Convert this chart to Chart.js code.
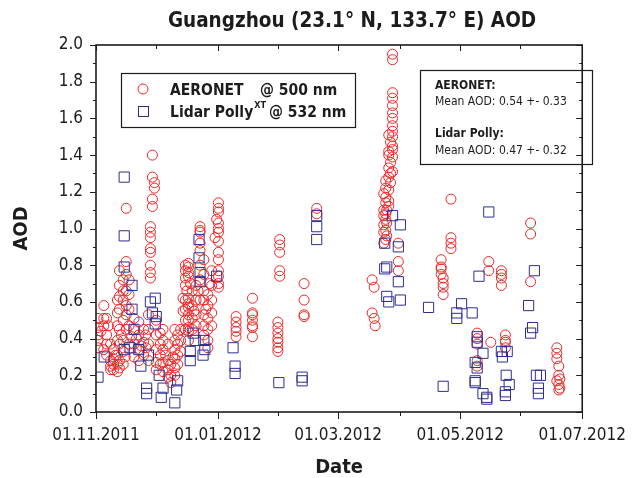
<!DOCTYPE html>
<html lang="en">
<head>
  <meta charset="UTF-8" />
  <title>Guangzhou AOD</title>
  <style>
    html, body { margin: 0; padding: 0; background: #fff; }
    #wrap { width: 639px; height: 478px; }
  </style>
</head>
<body>
  <div id="wrap"><canvas id="aodChart" width="639" height="478"></canvas></div>
  <script src="https://cdn.jsdelivr.net/npm/chart.js"></script>
  <script>
    // x = days since 01.11.2011
    const tickDays = [0, 61, 121, 182, 243];
    const tickLabels = ['01.11.2011', '01.01.2012', '01.03.2012', '01.05.2012', '01.07.2012'];
    const minorDays = [30, 91, 152, 212];

    // AERONET @ 500 nm : [day, AOD]
    const aeronetNov = [
      [1.0, 0.51], [1.0, 0.46], [1.0, 0.42], [1.0, 0.39], [1.0, 0.35], [2.5, 0.44],
      [3.9, 0.58], [3.9, 0.51], [3.9, 0.47], [3.9, 0.34],
      [5.3, 0.51], [5.3, 0.42], [5.3, 0.37], [5.3, 0.31], [6.2, 0.47],
      [7.3, 0.37], [7.3, 0.28], [7.3, 0.25], [7.3, 0.23],
      [8.7, 0.34], [8.7, 0.29], [8.7, 0.26], [8.7, 0.23], [9.7, 0.31],
      [10.7, 0.61], [10.7, 0.54], [10.7, 0.47], [10.7, 0.39], [10.7, 0.31], [10.7, 0.26], [10.7, 0.22],
      [11.7, 0.77], [11.7, 0.69], [11.7, 0.63], [11.7, 0.56], [11.7, 0.45], [11.7, 0.37], [11.7, 0.28], [11.7, 0.24],
      [12.6, 0.42],
      [13.6, 0.72], [13.6, 0.66], [13.6, 0.61], [13.6, 0.50], [13.6, 0.39], [13.6, 0.33], [13.6, 0.26],
      [14.6, 0.30],
      [15.1, 1.11], [15.1, 0.82], [15.1, 0.75], [15.1, 0.66], [15.1, 0.58], [15.1, 0.53], [15.1, 0.45],
      [16.5, 0.72], [16.5, 0.64], [16.5, 0.56], [16.5, 0.47], [16.5, 0.37], [17.8, 0.41],
      [19.0, 0.51], [19.0, 0.45], [19.0, 0.37], [19.0, 0.30], [20.2, 0.40],
      [21.4, 0.49], [21.4, 0.42], [21.4, 0.34], [21.4, 0.28], [22.6, 0.36],
      [23.8, 0.45], [23.8, 0.38], [23.8, 0.31], [24.8, 0.42], [25.0, 0.35],
      [26.2, 0.53], [26.2, 0.45], [26.2, 0.37], [26.2, 0.28],
      [27.2, 1.01], [27.2, 0.98], [27.2, 0.95], [27.2, 0.89], [27.2, 0.87], [27.2, 0.80], [27.2, 0.76], [27.2, 0.73],
      [28.2, 1.40], [28.2, 1.28], [28.2, 1.16], [28.2, 1.12],
      [29.2, 1.25], [29.2, 1.22],
      [30.1, 0.50], [30.1, 0.42], [30.1, 0.34], [30.1, 0.27], [30.1, 0.23]
    ];
    const aeronetDec = [
      [32.1, 0.43], [32.1, 0.37], [32.1, 0.31], [32.1, 0.26],
      [33.5, 0.45], [33.5, 0.39], [33.5, 0.34], [33.5, 0.27], [33.5, 0.22], [34.8, 0.31],
      [36.0, 0.37], [36.0, 0.28], [36.0, 0.23], [36.0, 0.19],
      [37.4, 0.26], [37.4, 0.20], [37.4, 0.16], [38.4, 0.30],
      [39.4, 0.45], [39.4, 0.39], [39.4, 0.34], [39.4, 0.29], [39.4, 0.24], [39.4, 0.20],
      [40.8, 0.42], [40.8, 0.37], [40.8, 0.31], [40.8, 0.26],
      [42.3, 0.45], [42.3, 0.39], [42.3, 0.33], [43.5, 0.62], [43.5, 0.55],
      [44.7, 0.80], [44.7, 0.77], [44.7, 0.73], [44.7, 0.69], [44.7, 0.61], [44.7, 0.56], [44.7, 0.50], [44.7, 0.45],
      [45.4, 0.66],
      [46.2, 0.81], [46.2, 0.79], [46.2, 0.76], [46.2, 0.74], [46.2, 0.62], [46.2, 0.59], [46.2, 0.57], [46.2, 0.53],
      [46.2, 0.50], [46.2, 0.46], [46.2, 0.44], [46.2, 0.39], [47.2, 0.70],
      [48.1, 0.66], [48.1, 0.58], [48.1, 0.51], [48.1, 0.45], [49.0, 0.55],
      [50.0, 0.69], [50.0, 0.61], [50.0, 0.53], [50.0, 0.47], [51.0, 0.66],
      [52.0, 1.01], [52.0, 0.99], [52.0, 0.98], [52.0, 0.92], [52.0, 0.88], [52.0, 0.80], [52.0, 0.72], [52.0, 0.61],
      [53.9, 0.83], [53.9, 0.75], [53.9, 0.66], [53.9, 0.61], [53.9, 0.53], [53.9, 0.47], [53.9, 0.42], [54.9, 0.56],
      [55.9, 0.64], [55.9, 0.58], [55.9, 0.51], [55.9, 0.45], [55.9, 0.39], [55.9, 0.35], [56.8, 0.70],
      [57.8, 0.77], [57.8, 0.69], [57.8, 0.61], [57.8, 0.54], [57.8, 0.47], [59.5, 0.95], [60.3, 1.05],
      [61.2, 1.14], [61.2, 1.11], [61.2, 1.09], [61.2, 1.03], [61.2, 1.00], [61.2, 0.98], [61.2, 0.93],
      [61.2, 0.87], [61.2, 0.83], [61.2, 0.77], [61.2, 0.74], [61.2, 0.70], [61.2, 0.68]
    ];
    const aeronetJanFeb = [
      [70.0, 0.52], [70.0, 0.49], [70.0, 0.46], [70.0, 0.44], [70.0, 0.41],
      [78.2, 0.62], [78.2, 0.54], [78.2, 0.53], [78.2, 0.50], [78.2, 0.47], [78.2, 0.46], [78.2, 0.41],
      [90.9, 0.49], [90.9, 0.46], [90.9, 0.43], [90.9, 0.40], [90.9, 0.38], [90.9, 0.35], [90.9, 0.33],
      [91.8, 0.94], [91.8, 0.91], [91.8, 0.87], [91.8, 0.77], [91.8, 0.74],
      [104.0, 0.70], [104.0, 0.61], [104.0, 0.53], [104.0, 0.52],
      [110.3, 1.11], [110.3, 1.08]
    ];
    const aeronetMarApr = [
      [138.0, 0.72], [138.0, 0.54], [139.0, 0.68], [139.0, 0.51], [139.5, 0.47],
      [143.8, 1.19], [143.8, 1.10], [143.8, 1.07], [143.8, 1.02], [143.8, 0.98], [143.8, 0.92],
      [144.8, 1.26], [144.8, 1.22], [144.8, 1.17], [144.8, 1.14], [144.8, 1.08], [144.8, 1.05], [144.8, 0.99], [144.8, 0.94],
      [145.3, 1.10], [145.3, 1.03], [145.3, 0.96],
      [146.3, 1.51], [146.3, 1.42], [146.3, 1.40], [146.3, 1.33], [146.3, 1.28], [146.3, 1.21], [146.3, 1.15], [146.3, 1.12],
      [147.2, 1.47], [147.2, 1.36], [147.2, 1.30], [147.2, 1.25],
      [148.2, 1.95], [148.2, 1.92], [148.2, 1.74], [148.2, 1.71], [148.2, 1.67], [148.2, 1.63], [148.2, 1.60],
      [148.2, 1.56], [148.2, 1.53], [148.2, 1.50], [148.2, 1.45], [148.2, 1.43], [148.2, 1.39], [148.2, 1.31],
      [151.1, 0.92], [151.1, 0.82], [151.1, 0.77]
    ];
    const aeronetMayJun = [
      [172.5, 0.83], [172.5, 0.79], [172.5, 0.78], [172.5, 0.75],
      [173.5, 0.73], [173.5, 0.70], [173.5, 0.68], [173.5, 0.64],
      [177.4, 1.16], [177.4, 0.95], [177.4, 0.92], [177.4, 0.89],
      [190.5, 0.43], [190.5, 0.40], [190.5, 0.37], [190.5, 0.28], [190.5, 0.25],
      [196.3, 0.82], [196.3, 0.77], [197.3, 0.38],
      [202.6, 0.77], [202.6, 0.75], [202.6, 0.73], [202.6, 0.69],
      [204.6, 0.42], [204.6, 0.39], [204.6, 0.38], [204.6, 0.35],
      [217.2, 1.03], [217.2, 0.97], [217.2, 0.71],
      [230.3, 0.35], [230.3, 0.32], [230.3, 0.29], [230.3, 0.17],
      [231.3, 0.25], [231.3, 0.20], [231.3, 0.15], [231.3, 0.12],
      [231.8, 0.18], [231.8, 0.13]
    ];

    // Lidar PollyXT @ 532 nm : [day, AOD]
    const pollyNov = [
      [1.0, 0.19], [4.1, 0.30], [14.1, 1.28], [14.1, 0.96], [14.1, 0.79], [18.0, 0.69], [18.0, 0.56],
      [19.0, 0.45], [14.1, 0.34], [17.0, 0.35], [21.4, 0.34], [22.4, 0.25], [26.2, 0.31], [27.2, 0.60],
      [29.6, 0.62], [28.2, 0.54], [30.1, 0.52], [29.6, 0.48], [25.3, 0.13], [25.3, 0.10]
    ];
    const pollyDec = [
      [31.6, 0.20], [33.5, 0.13], [32.6, 0.08], [39.4, 0.05], [40.8, 0.17], [40.3, 0.12], [47.1, 0.33],
      [47.1, 0.28], [48.6, 0.43], [51.5, 0.94], [51.5, 0.84], [52.0, 0.76], [52.0, 0.71], [49.6, 0.39],
      [53.9, 0.39], [54.4, 0.34], [53.5, 0.31], [60.3, 0.74]
    ];
    const pollyJanFeb = [
      [68.5, 0.35], [69.5, 0.25], [69.5, 0.21], [91.4, 0.16], [103.0, 0.17], [103.0, 0.19],
      [110.3, 1.07], [110.3, 1.01], [110.3, 0.94]
    ];
    const pollyMarApr = [
      [148.2, 1.07], [152.1, 1.02], [144.3, 0.92], [151.1, 0.90], [145.3, 0.79], [144.3, 0.78],
      [151.1, 0.71], [145.3, 0.63], [146.3, 0.60], [152.1, 0.61], [166.2, 0.57], [173.5, 0.14]
    ];
    const pollyMayJun = [
      [180.3, 0.54], [180.3, 0.51], [182.7, 0.59], [188.0, 0.54], [190.5, 0.41], [190.5, 0.38],
      [191.4, 0.74], [193.4, 0.32], [189.5, 0.27], [190.5, 0.24], [189.5, 0.17], [189.5, 0.16],
      [193.4, 0.10], [195.3, 0.08], [195.3, 0.07], [196.3, 1.09], [202.6, 0.33], [205.5, 0.33],
      [203.1, 0.30], [205.0, 0.20], [206.5, 0.15], [204.6, 0.11], [204.6, 0.09], [219.1, 0.77],
      [216.2, 0.58], [218.2, 0.46], [217.2, 0.43], [220.1, 0.20], [222.1, 0.20], [221.1, 0.13], [221.1, 0.10]
    ];

    const statLines = [
      ['AERONET:', true], ['Mean AOD: 0.54 +- 0.33', false],
      ['Lidar Polly:', true], ['Mean AOD: 0.47 +- 0.32', false]
    ];

    const RED = '#ee2626';
    const BLUE = '#2e2e92';
    const INK = '#1c1c1c';
    const FONT = "'DejaVu Sans Condensed', 'Liberation Sans Narrow', 'DejaVu Sans', sans-serif";
    const toXY = ([x, y]) => ({ x, y });

    const aeronet = [...aeronetNov, ...aeronetDec, ...aeronetJanFeb, ...aeronetMarApr, ...aeronetMayJun].map(toXY);
    const polly = [...pollyNov, ...pollyDec, ...pollyJanFeb, ...pollyMarApr, ...pollyMayJun].map(toXY);

    // frame, minor/major ticks, legend box, stats box, title
    const decorations = {
      id: 'decorations',
      afterDraw(chart) {
        const { ctx, chartArea: a, scales: { x, y } } = chart;
        ctx.save();
        ctx.strokeStyle = INK;
        ctx.lineWidth = 1;
        const seg = (x1, y1, x2, y2) => { ctx.beginPath(); ctx.moveTo(x1, y1); ctx.lineTo(x2, y2); ctx.stroke(); };

        for (let i = 0; i <= 20; i++) {
          const py = Math.round(y.getPixelForValue(i / 10)) + 0.5;
          const len = i % 2 === 0 ? 6 : 3;
          seg(a.left - len, py, a.left, py);
          seg(a.right - len, py, a.right, py);
        }
        tickDays.forEach(d => {
          const px = Math.round(x.getPixelForValue(d)) + 0.5;
          seg(px, a.bottom, px, a.bottom + 7);
          seg(px, a.top, px, a.top + 6);
        });
        minorDays.forEach(d => {
          const px = Math.round(x.getPixelForValue(d)) + 0.5;
          seg(px, a.bottom, px, a.bottom + 4);
          seg(px, a.top, px, a.top + 4);
        });
        ctx.lineWidth = 1.6;
        ctx.strokeRect(a.left, a.top, a.right - a.left, a.bottom - a.top);

        // legend
        ctx.lineWidth = 1.2;
        ctx.strokeRect(121.5, 73.5, 234, 54);
        ctx.lineWidth = 1;
        ctx.strokeStyle = RED;
        ctx.beginPath(); ctx.arc(143, 89, 5, 0, Math.PI * 2); ctx.stroke();
        ctx.strokeStyle = BLUE;
        ctx.strokeRect(138.5, 106.5, 10, 10);
        ctx.fillStyle = INK;
        ctx.textBaseline = 'alphabetic';
        ctx.textAlign = 'left';
        ctx.font = 'bold 15.5px ' + FONT;
        ctx.fillText('AERONET', 170, 95);
        ctx.fillText('@ 500 nm', 260, 95);
        ctx.fillText('Lidar Polly', 170, 117);
        const w = ctx.measureText('Lidar Polly').width;
        ctx.fillText('@ 532 nm', 269, 117);
        ctx.font = 'bold 9px ' + FONT;
        ctx.fillText('XT', 170 + w + 1, 108);

        // stats box
        ctx.strokeStyle = INK;
        ctx.lineWidth = 1.2;
        ctx.strokeRect(420.5, 70.5, 172, 94);
        const baselines = [89, 105, 137, 154];
        statLines.forEach(([txt, bold], i) => {
          ctx.font = (bold ? 'bold ' : '') + '12px ' + FONT;
          ctx.fillText(txt, 435, baselines[i]);
        });

        // title
        ctx.font = 'bold 20.5px ' + FONT;
        ctx.textAlign = 'center';
        ctx.fillText('Guangzhou (23.1\u00b0 N, 133.7\u00b0 E) AOD', 352, 27);
        ctx.restore();
      }
    };

    new Chart(document.getElementById('aodChart').getContext('2d'), {
      type: 'scatter',
      data: {
        datasets: [
          {
            label: 'Lidar PollyXT @ 532 nm',
            data: polly,
            pointStyle: 'rect',
            pointRadius: 7.2,
            borderColor: BLUE,
            backgroundColor: 'rgba(0,0,0,0)',
            borderWidth: 1,
            order: 0
          },
          {
            label: 'AERONET @ 500 nm',
            data: aeronet,
            pointStyle: 'circle',
            pointRadius: 5,
            borderColor: RED,
            backgroundColor: 'rgba(0,0,0,0)',
            borderWidth: 1,
            order: 1
          }
        ]
      },
      options: {
        responsive: false,
        animation: false,
        layout: { padding: { top: 45, right: 43, left: 0, bottom: 0 } },
        plugins: { legend: { display: false }, tooltip: { enabled: false } },
        scales: {
          x: {
            type: 'linear',
            min: 0,
            max: 243,
            afterBuildTicks: scale => { scale.ticks = tickDays.map(v => ({ value: v })); },
            afterFit: scale => { scale.height = 66; },
            grid: { display: false, drawTicks: false },
            border: { display: false },
            ticks: {
              padding: 13,
              color: INK,
              maxRotation: 0,
              autoSkip: false,
              font: { family: FONT, size: 17 },
              callback: v => tickLabels[tickDays.indexOf(v)]
            },
            title: {
              display: true,
              text: 'Date',
              color: INK,
              font: { family: FONT, size: 20, weight: 'bold', lineHeight: 1 },
              padding: { top: 0, bottom: 0 }
            }
          },
          y: {
            min: 0,
            max: 2,
            afterFit: scale => { scale.width = 96; },
            grid: { display: false, drawTicks: false },
            border: { display: false },
            ticks: {
              stepSize: 0.2,
              padding: 13,
              color: INK,
              font: { family: FONT, size: 17 },
              callback: v => v.toFixed(1)
            },
            title: {
              display: true,
              text: 'AOD',
              color: INK,
              font: { family: FONT, size: 20, weight: 'bold', lineHeight: 1 },
              padding: { top: 12, bottom: 0 }
            }
          }
        }
      },
      plugins: [decorations]
    });
  </script>
</body>
</html>
